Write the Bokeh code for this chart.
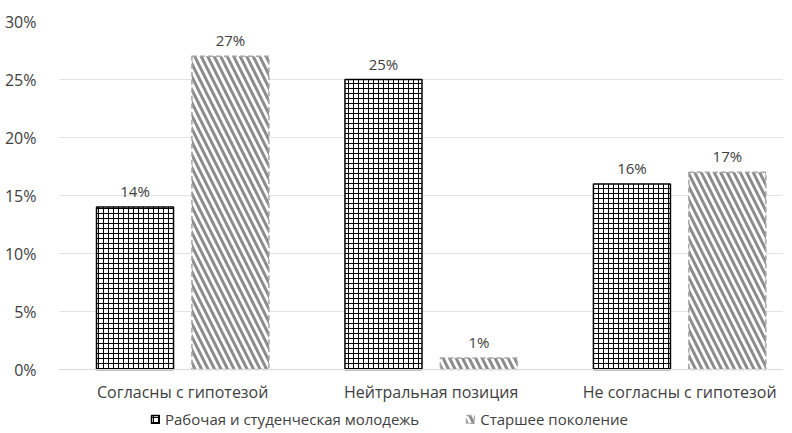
from bokeh.plotting import figure
from bokeh.models import ColumnDataSource, Range1d, FixedTicker, Legend, LegendItem, LabelSet, NumeralTickFormatter
from bokeh.embed import file_html
from bokeh.resources import INLINE
from bokeh.core.properties import value

categories = ["Согласны с гипотезой", "Нейтральная позиция", "Не согласны с гипотезой"]
series_names = ["Рабочая и студенческая молодежь", "Старшее поколение"]
youth = [0.14, 0.25, 0.16]
older = [0.27, 0.01, 0.17]
y_ticks = [0, 0.05, 0.10, 0.15, 0.20, 0.25, 0.30]

FONT = "Open Sans"
idx = list(range(len(categories)))
centers = [i + 0.5 for i in idx]
off = 0.192
bw = 0.31

src1 = ColumnDataSource(dict(x=[c - off for c in centers], top=youth,
                             lab=[f"{round(v*100)}%" for v in youth]))
src2 = ColumnDataSource(dict(x=[c + off for c in centers], top=older,
                             lab=[f"{round(v*100)}%" for v in older]))

p = figure(frame_width=725, frame_height=411, output_backend="svg", toolbar_location=None,
           x_range=Range1d(0, 2.918), y_range=Range1d(-0.0543, 0.30),
           min_border_left=58, min_border_right=0, min_border_top=21, min_border_bottom=0)
p.outline_line_color = None
p.background_fill_color = "white"

r1 = p.vbar(x="x", top="top", width=bw, source=src1, fill_color="white",
            line_color="black", line_width=1.5,
            hatch_pattern="cross", hatch_color="black", hatch_scale=5, hatch_weight=1)
r2 = p.vbar(x="x", top="top", width=bw, source=src2, fill_color="white",
            line_color="#a6a6a6", line_width=1.5, line_dash="5 3",
            hatch_pattern="left_diagonal_line", hatch_color="#8c8c8c", hatch_scale=13, hatch_weight=3)

for src in (src1, src2):
    lbl = LabelSet(x="x", y="top", text="lab", source=src, text_align="center",
                   text_baseline="bottom", y_offset=6, text_font=value(FONT),
                   text_font_size="15px", text_color="#404040")
    p.add_layout(lbl)

p.xaxis.fixed_location = 0
p.xaxis.ticker = FixedTicker(ticks=centers)
p.xaxis.major_label_overrides = {c: categories[i] for i, c in enumerate(centers)}
p.xaxis.major_tick_line_color = None
p.xaxis.minor_tick_line_color = None
p.xaxis.axis_line_color = "#d9d9d9"
p.xaxis.major_label_text_font = FONT
p.xaxis.major_label_text_font_size = "16px"
p.xaxis.major_label_text_color = "#404040"
p.xaxis.major_label_standoff = 5

p.yaxis.ticker = FixedTicker(ticks=y_ticks)
p.yaxis.formatter = NumeralTickFormatter(format="0%")
p.yaxis.axis_line_color = None
p.yaxis.major_tick_line_color = None
p.yaxis.minor_tick_line_color = None
p.yaxis.major_label_text_font = FONT
p.yaxis.major_label_text_font_size = "16px"
p.yaxis.major_label_text_color = "#404040"
p.yaxis.major_label_standoff = 16

p.xgrid.grid_line_color = None
p.ygrid.ticker = FixedTicker(ticks=y_ticks)
p.ygrid.grid_line_color = "#e3e3e3"
p.ygrid.grid_line_width = 1

legend = Legend(items=[LegendItem(label=series_names[0], renderers=[r1]),
                       LegendItem(label=series_names[1], renderers=[r2])],
                orientation="horizontal", location=(92, 3),
                label_text_font=FONT, label_text_font_size="15px", label_text_color="#404040",
                label_height=16, glyph_width=10, glyph_height=10, spacing=46, label_standoff=5,
                border_line_color=None, background_fill_alpha=0, padding=2, margin=0)
p.add_layout(legend, "center")

open("out.html", "w").write(file_html(p, INLINE))
